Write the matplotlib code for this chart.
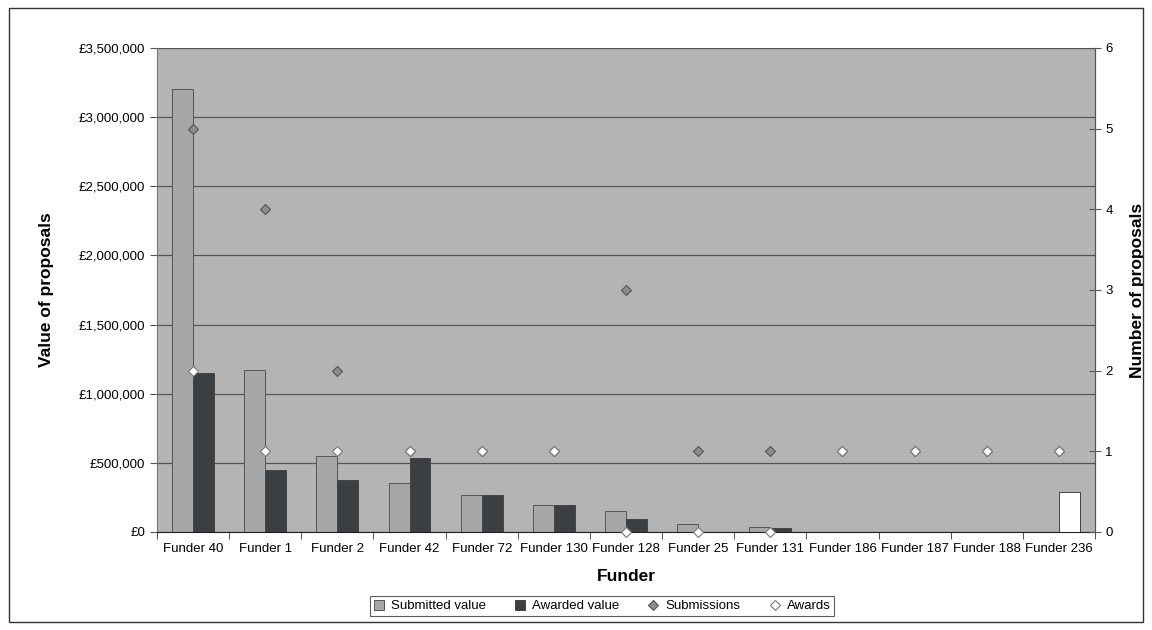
import matplotlib
matplotlib.use("Agg")
import matplotlib.pyplot as plt
import numpy as np
from matplotlib.patches import Rectangle
from matplotlib.ticker import FuncFormatter, FixedLocator

funders = ["Funder 40", "Funder 1", "Funder 2", "Funder 42", "Funder 72", "Funder 130",
           "Funder 128", "Funder 25", "Funder 131", "Funder 186", "Funder 187", "Funder 188",
           "Funder 236"]
submitted_value = [3200000, 1170000, 550000, 355000, 265000, 197000, 154000, 58000, 38000, 0, 0, 0, 0]
awarded_value = [1150000, 450000, 375000, 533000, 265000, 197000, 92000, 0, 30000, 0, 0, 0, 290000]
submissions = [5, 4, 2, 1, 1, 1, 3, 1, 1, 1, 1, 1, 1]
awards = [2, 1, 1, 1, 1, 1, 0, 0, 0, 1, 1, 1, 1]

plt.rcParams['font.family'] = ['Liberation Sans', 'DejaVu Sans']

fig = plt.figure(figsize=(11.52, 6.3), dpi=100)
fig.patch.set_facecolor('white')
fig.patches.append(Rectangle((9/1152, 1-622/630), (1143-9)/1152, (622-8)/630,
                             transform=fig.transFigure, fill=False, edgecolor='#333333',
                             linewidth=1.0))

ax = fig.add_axes([157/1152, 1-532/630, (1095-157)/1152, (532-48)/630])
ax.set_facecolor('#b4b4b4')
x = np.arange(len(funders))
w = 0.29

ax.bar(x - w/2, submitted_value, width=w, color='#a7a7a7', edgecolor='#555555', linewidth=0.7,
       label='Submitted value', zorder=2)
aw_colors = ['#3c3f42'] * (len(funders) - 1) + ['white']
bars = ax.bar(x + w/2, awarded_value, width=w, color=aw_colors, edgecolor='#444444', linewidth=0.7,
              label='Awarded value', zorder=2)

ax.set_ylim(0, 3500000)
ax.set_xlim(-0.5, len(funders) - 0.5)
ax.set_yticks(np.arange(0, 3500001, 500000))
ax.yaxis.set_major_formatter(FuncFormatter(lambda v, p: "£{:,.0f}".format(v)))
ax.yaxis.grid(True, color='#555555', linewidth=0.9, zorder=1)
ax.set_axisbelow(True)
ax.set_xticks(x)
ax.set_xticklabels(funders, fontsize=9.5)
ax.tick_params(axis='x', which='major', length=0, pad=8)
ax.xaxis.set_minor_locator(FixedLocator(np.arange(-0.5, len(funders), 1.0)))
ax.tick_params(axis='x', which='minor', length=5, color='#333333')
ax.tick_params(axis='y', labelsize=9.5, length=5, color='#555555')
for s in ['top']:
    ax.spines[s].set_visible(False)
ax.spines['left'].set_color('#777777')
ax.spines['bottom'].set_color('#222222')
ax.spines['right'].set_color('#555555')

ax.set_ylabel("Value of proposals", fontsize=12.5, fontweight='bold', labelpad=18)
ax.set_xlabel("Funder", fontsize=12.5, fontweight='bold', labelpad=10)

ax2 = ax.twinx()
ax2.set_ylim(0, 6)
ax2.set_yticks(range(0, 7))
ax2.tick_params(axis='y', labelsize=9.5, direction='inout', length=8, color='#555555')
ax2.plot(x, submissions, linestyle='none', marker='D', markersize=5.5, color='#8c8c8c',
         markeredgecolor='#555555', markeredgewidth=0.8, label='Submissions', zorder=3, clip_on=False)
ax2.plot(x, awards, linestyle='none', marker='D', markersize=5.5, color='white',
         markeredgecolor='#777777', markeredgewidth=0.8, label='Awards', zorder=4, clip_on=False)
for s in ['top', 'left', 'bottom']:
    ax2.spines[s].set_visible(False)
ax2.spines['right'].set_color('#555555')
ax2.set_ylabel("Number of proposals", fontsize=12.5, fontweight='bold', labelpad=12)

h1, l1 = ax.get_legend_handles_labels()
h2, l2 = ax2.get_legend_handles_labels()
leg = fig.legend(h1 + h2, l1 + l2, loc='center', bbox_to_anchor=(602/1152, 1-606/630), ncol=4,
                 fontsize=9.5, frameon=True, fancybox=False, edgecolor='#333333',
                 handlelength=0.8, handleheight=0.8, columnspacing=2.2, handletextpad=0.5,
                 borderpad=0.3)
leg.get_frame().set_linewidth(0.8)

fig.savefig("out.png", dpi=100, facecolor='white')
